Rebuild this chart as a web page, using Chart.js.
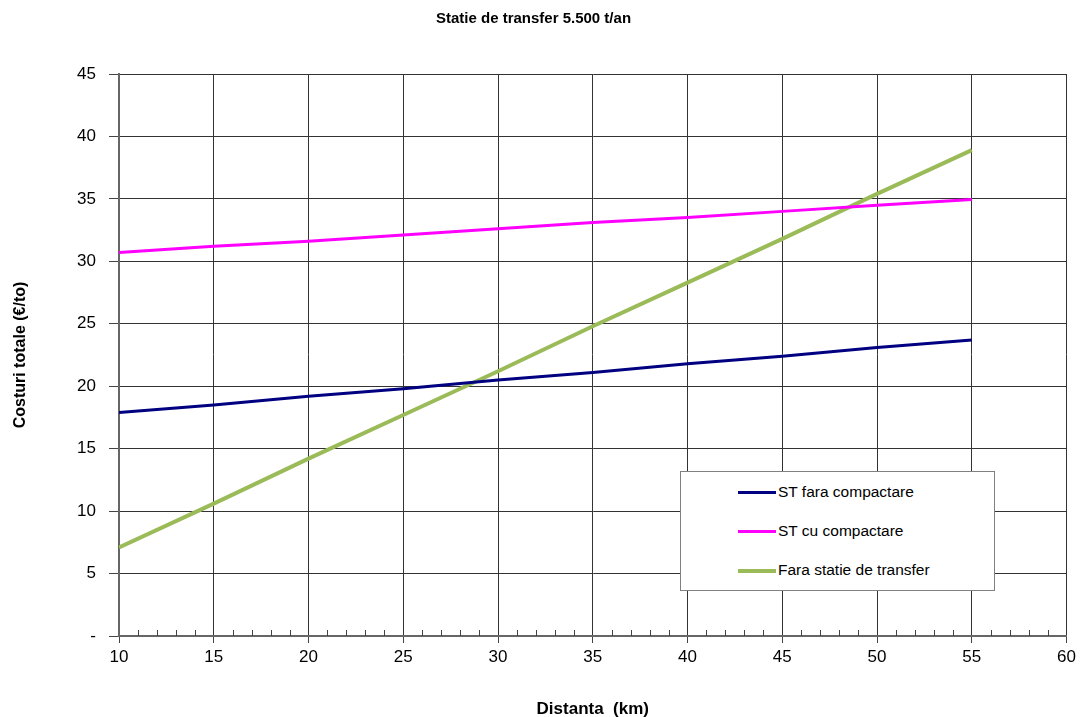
<!DOCTYPE html>
<html>
<head>
<meta charset="utf-8">
<script src="https://cdn.jsdelivr.net/npm/chart.js@4/dist/chart.umd.min.js"></script>
<style>
  html, body { margin: 0; padding: 0; background: #fff; }
  #wrap { position: relative; width: 1080px; height: 717px; }
  #legend {
    position: absolute; left: 680px; top: 471px; width: 313px; height: 118px;
    background: #fff; border: 1px solid #808080;
    font-family: "Liberation Sans", Arial, sans-serif; font-size: 15.5px; color: #000;
  }
  #legend .row { position: absolute; left: 57px; height: 20px; line-height: 20px; white-space: nowrap; }
  #legend .swatch { display: inline-block; width: 38px; vertical-align: middle; margin-right: 2px; }
</style>
</head>
<body>
<div id="wrap">
  <canvas id="costChart" width="1080" height="717"></canvas>
  <div id="legend"></div>
</div>
<script>
// distances (km)
var distances = [10, 15, 20, 25, 30, 35, 40, 45, 50, 55];

// total costs (euro/to)
var faraCompactare = [17.9, 18.5, 19.2, 19.8, 20.5, 21.1, 21.8, 22.4, 23.1, 23.7];
var cuCompactare = [30.7, 31.2, 31.6, 32.1, 32.6, 33.1, 33.5, 34.0, 34.5, 34.95];
var faraStatie = [7.1, 10.6, 14.2, 17.7, 21.2, 24.8, 28.3, 31.8, 35.4, 38.9];

var seriesNames = ['ST fara compactare', 'ST cu compactare', 'Fara statie de transfer'];
var seriesColors = ['#000080', '#ff00ff', '#9bbb59'];
var seriesWidths = [3, 3, 4];

var xTicks = [10, 15, 20, 25, 30, 35, 40, 45, 50, 55, 60];
var yTicks = [0, 5, 10, 15, 20, 25, 30, 35, 40, 45];

function toPoints(values) {
    var pts = [];
    for (var k = 0; k < distances.length; k++) {
        pts.push({x: distances[k], y: values[k]});
    }
    return pts;
}

var allSeries = [faraCompactare, cuCompactare, faraStatie];
var datasets = [];
for (var s = 0; s < allSeries.length; s++) {
    datasets.push({
        label: seriesNames[s],
        data: toPoints(allSeries[s]),
        borderColor: seriesColors[s],
        backgroundColor: seriesColors[s],
        borderWidth: seriesWidths[s],
        pointRadius: 0,
        tension: 0
    });
}

// small minor tick marks on the x axis, every km
var minorTicks = {
    id: 'minorTicks',
    afterDraw: function(chart) {
        var ctx = chart.ctx;
        var xs = chart.scales.x;
        var bottom = chart.chartArea.bottom;
        ctx.save();
        ctx.strokeStyle = '#444';
        ctx.lineWidth = 1;
        for (var v = xs.min + 1; v < xs.max; v++) {
            if (v % 5 === 0) continue;
            var px = Math.round(xs.getPixelForValue(v)) + 0.5;
            ctx.beginPath();
            ctx.moveTo(px, bottom);
            ctx.lineTo(px, bottom - 6);
            ctx.stroke();
        }
        ctx.restore();
    }
};

var font = '"Liberation Sans", Arial, sans-serif';

var costChart = new Chart(document.getElementById('costChart').getContext('2d'), {
    type: 'line',
    data: { datasets: datasets },
    plugins: [minorTicks],
    options: {
        responsive: false,
        animation: false,
        layout: { padding: { left: 0, right: 13, top: 0, bottom: 0 } },
        plugins: {
            legend: { display: false },
            tooltip: { enabled: false },
            title: {
                display: true,
                text: 'Statie de transfer 5.500 t/an',
                color: '#000',
                font: { family: font, size: 15, weight: 'bold' },
                padding: { top: 10, bottom: 46 }
            }
        },
        scales: {
            x: {
                type: 'linear',
                min: 10,
                max: 60,
                afterBuildTicks: function(scale) {
                    scale.ticks = xTicks.map(function(v) { return {value: v}; });
                },
                afterFit: function(scale) { scale.height = 81; },
                ticks: {
                    color: '#000',
                    font: { family: font, size: 17 },
                    padding: 4,
                    maxRotation: 0
                },
                grid: { color: '#333', lineWidth: 1, tickLength: 7, tickColor: '#444' },
                border: { color: '#666', width: 2 },
                title: {
                    display: true,
                    text: 'Distanta  (km)',
                    color: '#000',
                    font: { family: font, size: 17, weight: 'bold' },
                    padding: { top: 20, bottom: -3 }
                }
            },
            y: {
                min: 0,
                max: 45,
                afterBuildTicks: function(scale) {
                    scale.ticks = yTicks.map(function(v) { return {value: v}; });
                },
                afterFit: function(scale) { scale.width = 119; },
                ticks: {
                    color: '#000',
                    font: { family: font, size: 17 },
                    padding: 13,
                    callback: function(v) { return v === 0 ? '-' : v; }
                },
                grid: { color: '#333', lineWidth: 1, tickLength: 10, tickColor: '#444' },
                border: { color: '#666', width: 2 },
                title: {
                    display: true,
                    text: 'Costuri totale (€/to)',
                    color: '#000',
                    font: { family: font, size: 16, weight: 'bold' },
                    padding: { top: 11, bottom: 4 }
                }
            }
        }
    }
});

// legend box inside the plot, built from the datasets
var legend = document.getElementById('legend');
var rowTops = [10, 49, 88];
costChart.data.datasets.forEach(function(ds, idx) {
    var row = document.createElement('div');
    row.className = 'row';
    row.style.top = rowTops[idx] + 'px';
    var sw = document.createElement('span');
    sw.className = 'swatch';
    sw.style.borderTop = ds.borderWidth + 'px solid ' + ds.borderColor;
    row.appendChild(sw);
    row.appendChild(document.createTextNode(ds.label));
    legend.appendChild(row);
});
</script>
</body>
</html>
